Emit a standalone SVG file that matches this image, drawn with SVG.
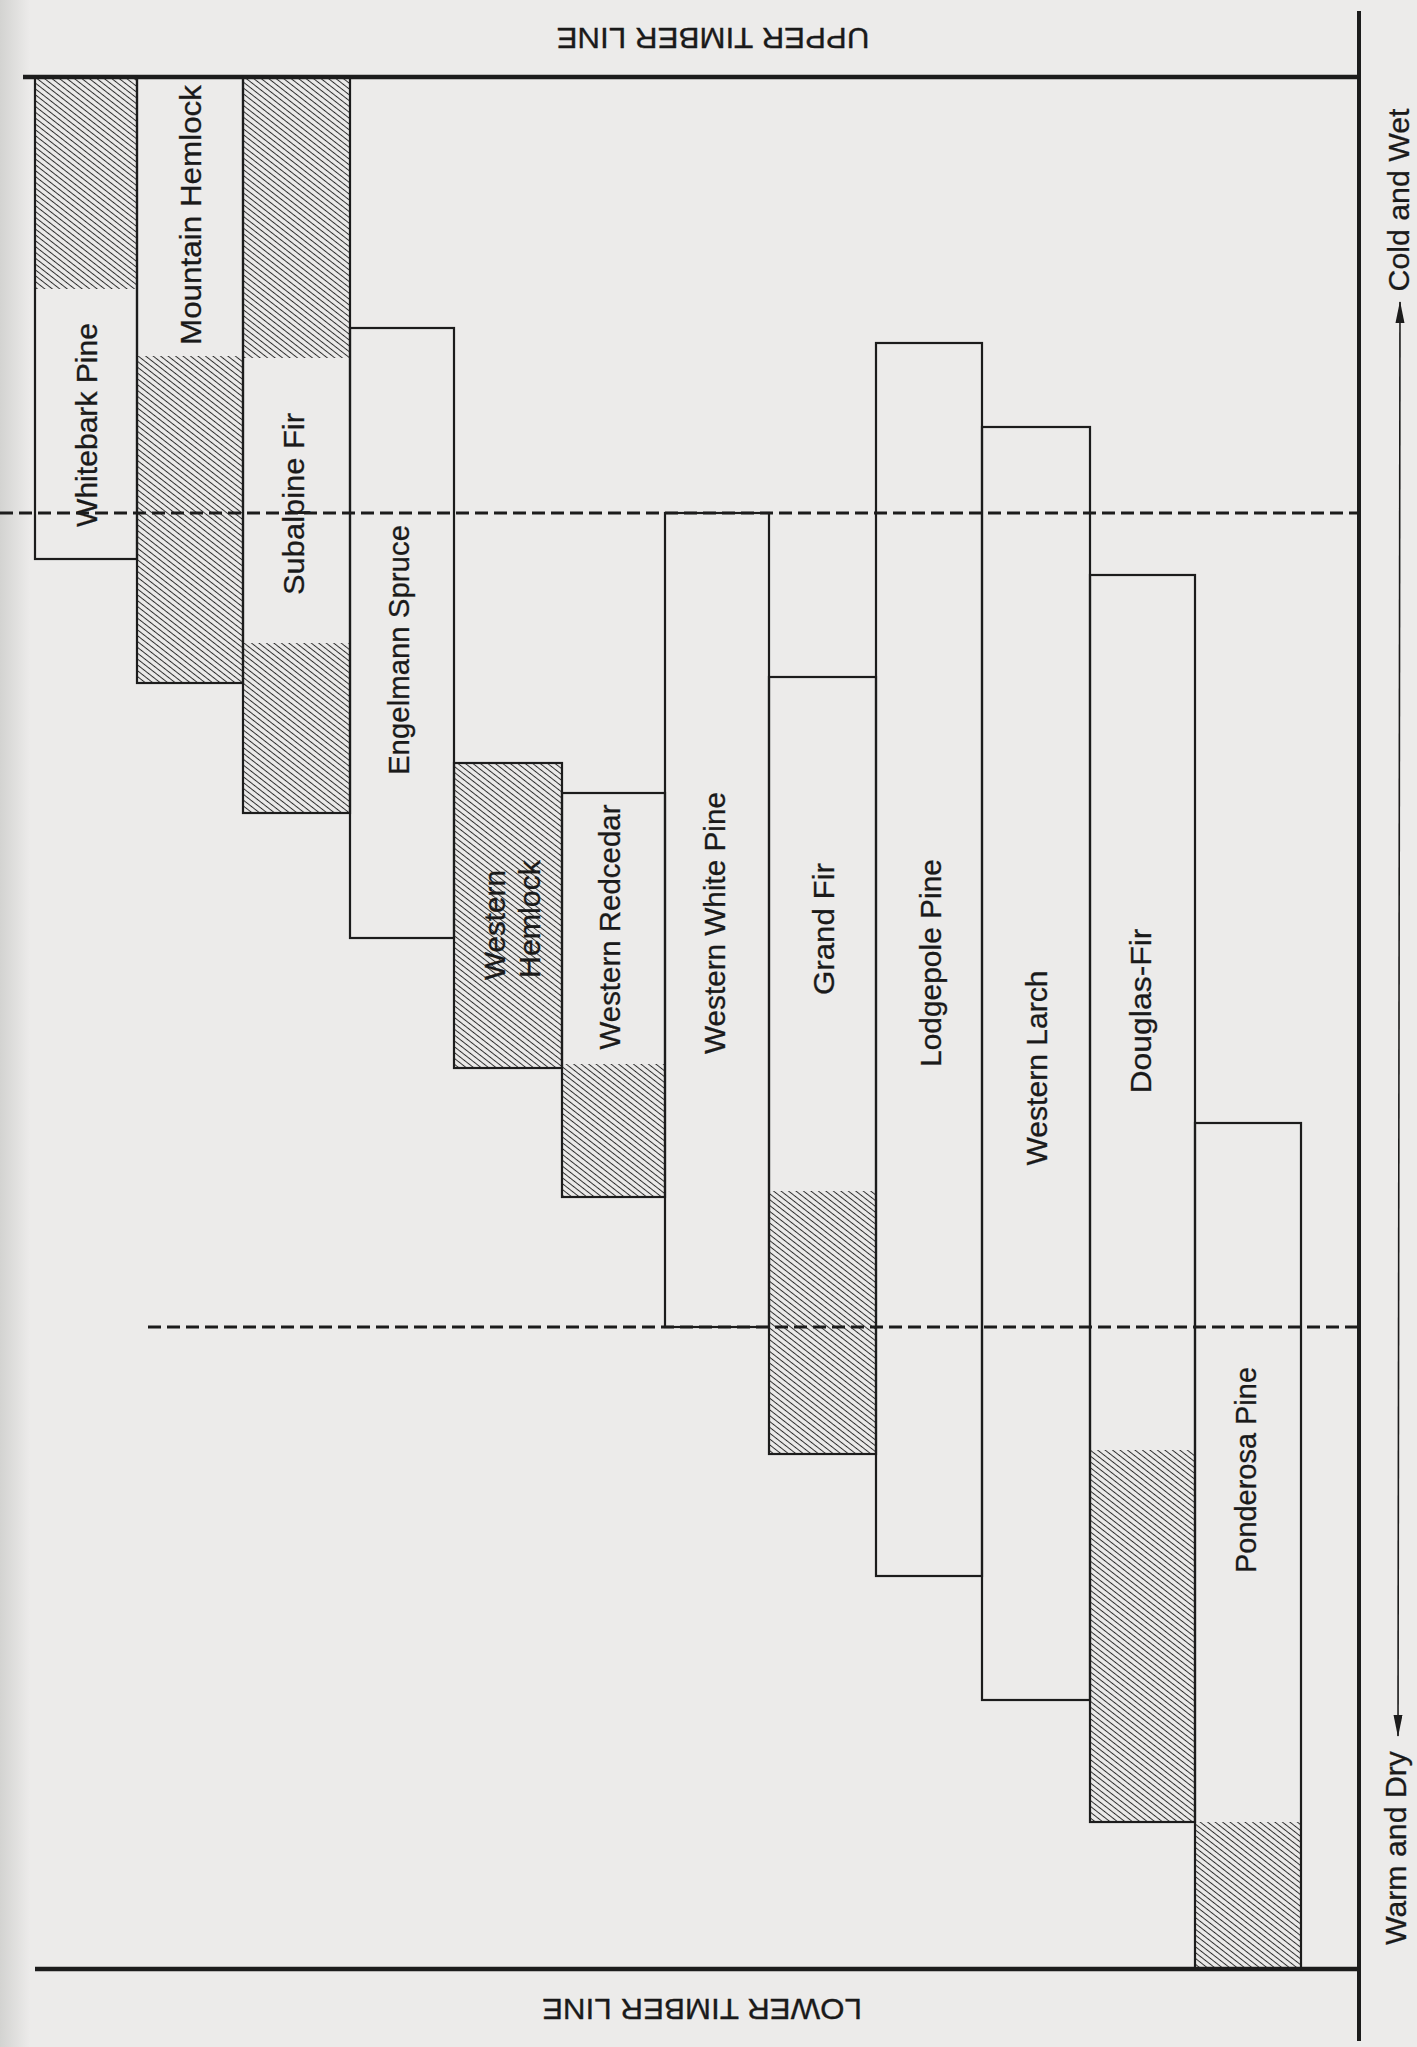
<svg xmlns="http://www.w3.org/2000/svg" width="1417" height="2047" viewBox="0 0 1417 2047">
<style>
.box{fill:none;stroke:#1c1c1c;stroke-width:2.2}
.hat{fill:url(#hatch);stroke:none}
.lbl{font-family:"Liberation Sans",Arial,sans-serif;font-size:30px;fill:#1a1a1a;text-anchor:middle;stroke:#1a1a1a;stroke-width:0.3}
.tl{stroke:#1c1c1c;stroke-width:4.5;fill:none}
.dash{stroke:#1c1c1c;stroke-width:3.2;stroke-dasharray:13 6;fill:none}
</style>
<defs>
<pattern id="hatch" patternUnits="userSpaceOnUse" width="12" height="4.6" patternTransform="rotate(38)">
<line x1="-1" y1="2.3" x2="13" y2="2.3" stroke="#2e2e2e" stroke-width="1"/>
</pattern>
<linearGradient id="edge" x1="0" y1="0" x2="1" y2="0">
<stop offset="0" stop-color="#d3d3d1"/>
<stop offset="1" stop-color="#ecebea"/>
</linearGradient>
<marker id="arr" markerUnits="userSpaceOnUse" markerWidth="22" markerHeight="10" refX="21" refY="4.5" orient="auto-start-reverse">
<path d="M0,0 L22,4.5 L0,9 Z" fill="#1c1c1c"/>
</marker>
</defs>
<rect x="0" y="0" width="1417" height="2047" fill="#ecebea"/>
<rect x="0" y="0" width="30" height="2047" fill="url(#edge)"/>

<g id="whitebark-pine">
<rect class="hat" x="35" y="77" width="102" height="212"/>
<rect class="box" x="35" y="77" width="102" height="482"/>
<text class="lbl" x="86" y="436" transform="rotate(-90 86 425)" textLength="204" lengthAdjust="spacingAndGlyphs">Whitebark Pine</text>
</g>
<g id="mountain-hemlock">
<rect class="hat" x="137" y="356" width="106" height="327"/>
<rect class="box" x="137" y="77" width="106" height="606"/>
<text class="lbl" x="190" y="226" transform="rotate(-90 190 215)" textLength="260" lengthAdjust="spacingAndGlyphs">Mountain Hemlock</text>
</g>
<g id="subalpine-fir">
<rect class="hat" x="243" y="77" width="107" height="281"/>
<rect class="hat" x="243" y="643" width="107" height="170"/>
<rect class="box" x="243" y="77" width="107" height="736"/>
<text class="lbl" x="293" y="515" transform="rotate(-90 293 504)" textLength="182" lengthAdjust="spacingAndGlyphs">Subalpine Fir</text>
</g>
<g id="engelmann-spruce">
<rect class="box" x="350" y="328" width="104" height="610"/>
<text class="lbl" x="398" y="661" transform="rotate(-90 398 650)" textLength="250" lengthAdjust="spacingAndGlyphs">Engelmann Spruce</text>
</g>
<g id="western-hemlock">
<rect class="hat" x="454" y="763" width="108" height="305"/>
<rect class="box" x="454" y="763" width="108" height="305"/>
<text class="lbl" x="494" y="936" transform="rotate(-90 494 925)" textLength="110" lengthAdjust="spacingAndGlyphs">Western</text>
<text class="lbl" x="529" y="930" transform="rotate(-90 529 919)" textLength="118" lengthAdjust="spacingAndGlyphs">Hemlock</text>
</g>
<g id="western-redcedar">
<rect class="hat" x="562" y="1064" width="103" height="133"/>
<rect class="box" x="562" y="793" width="103" height="404"/>
<text class="lbl" x="609" y="938" transform="rotate(-90 609 927)" textLength="245" lengthAdjust="spacingAndGlyphs">Western Redcedar</text>
</g>
<g id="western-white-pine">
<rect class="box" x="665" y="513" width="104" height="814"/>
<text class="lbl" x="714" y="934" transform="rotate(-90 714 923)" textLength="262" lengthAdjust="spacingAndGlyphs">Western White Pine</text>
</g>
<g id="grand-fir">
<rect class="hat" x="769" y="1191" width="107" height="263"/>
<rect class="box" x="769" y="677" width="107" height="777"/>
<text class="lbl" x="823" y="940" transform="rotate(-90 823 929)" textLength="132" lengthAdjust="spacingAndGlyphs">Grand Fir</text>
</g>
<g id="lodgepole-pine">
<rect class="box" x="876" y="343" width="106" height="1233"/>
<text class="lbl" x="930" y="974" transform="rotate(-90 930 963)" textLength="208" lengthAdjust="spacingAndGlyphs">Lodgepole Pine</text>
</g>
<g id="western-larch">
<rect class="box" x="982" y="427" width="108" height="1273"/>
<text class="lbl" x="1036" y="1079" transform="rotate(-90 1036 1068)" textLength="195" lengthAdjust="spacingAndGlyphs">Western Larch</text>
</g>
<g id="douglas-fir">
<rect class="hat" x="1090" y="1450" width="105" height="372"/>
<rect class="box" x="1090" y="575" width="105" height="1247"/>
<text class="lbl" x="1140" y="1022" transform="rotate(-90 1140 1011)" textLength="165" lengthAdjust="spacingAndGlyphs">Douglas-Fir</text>
</g>
<g id="ponderosa-pine">
<rect class="hat" x="1195" y="1822" width="106" height="147"/>
<rect class="box" x="1195" y="1123" width="106" height="846"/>
<text class="lbl" x="1245" y="1481" transform="rotate(-90 1245 1470)" textLength="206" lengthAdjust="spacingAndGlyphs">Ponderosa Pine</text>
</g>

<g id="connectors">
<line class="dash" x1="0" y1="513" x2="1358" y2="513"/>
<line class="dash" x1="148" y1="1327" x2="1358" y2="1327"/>
<line class="tl" x1="23" y1="77" x2="1360" y2="77"/>
<line class="tl" x1="35" y1="1969" x2="1360" y2="1969"/>
<line x1="1359" y1="11" x2="1359" y2="2041" stroke="#1c1c1c" stroke-width="4"/>
<line x1="1400" y1="302" x2="1398" y2="1736" stroke="#1c1c1c" stroke-width="1.6" marker-start="url(#arr)" marker-end="url(#arr)"/>
</g>

<g id="labels">
<text class="lbl" x="713" y="50" transform="rotate(180 713 39)" textLength="313" lengthAdjust="spacingAndGlyphs">UPPER TIMBER LINE</text>
<text class="lbl" x="702" y="2021" transform="rotate(180 702 2010)" textLength="320" lengthAdjust="spacingAndGlyphs">LOWER TIMBER LINE</text>
<text class="lbl" x="1398" y="211" transform="rotate(-90 1398 200)" textLength="183" lengthAdjust="spacingAndGlyphs">Cold and Wet</text>
<text class="lbl" x="1395" y="1859" transform="rotate(-90 1395 1848)" textLength="194" lengthAdjust="spacingAndGlyphs">Warm and Dry</text>
</g>
</svg>
